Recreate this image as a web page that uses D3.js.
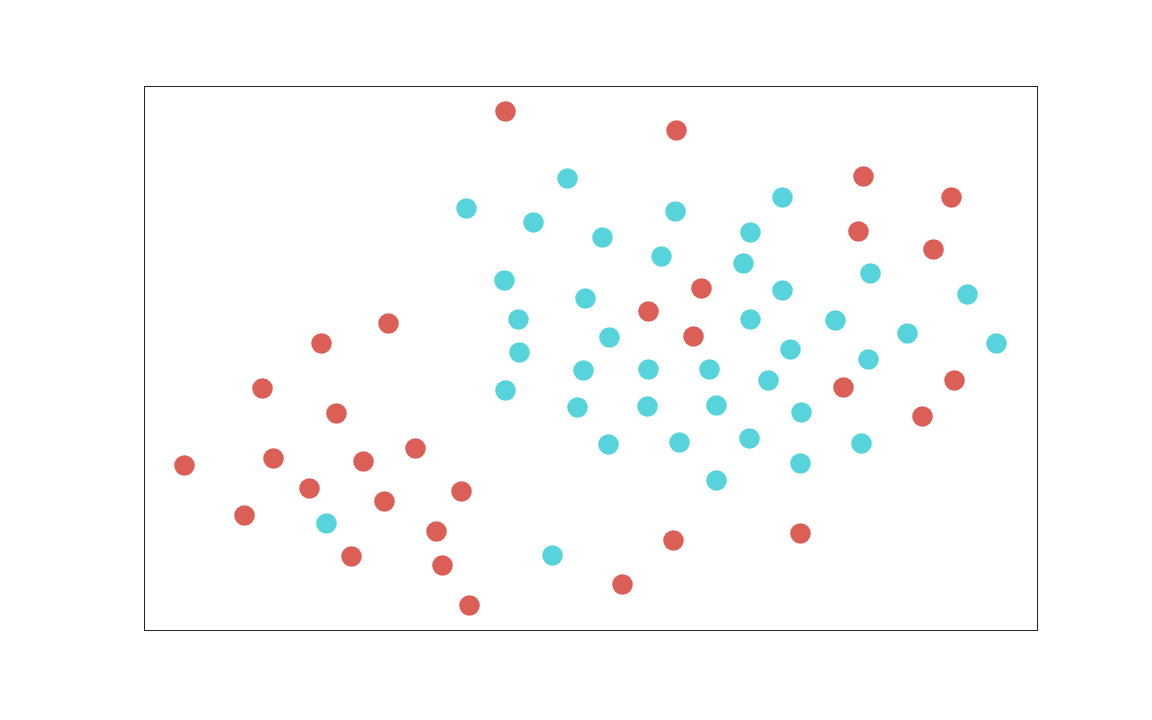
<!DOCTYPE html>
<html><head><meta charset="utf-8">
<script src="https://cdn.jsdelivr.net/npm/d3@7"></script>
<style>body{margin:0;background:#fff}</style>
</head><body>
<svg id="chart" width="1152" height="720"></svg>
<script>
// data in arbitrary units (x: 0..893, y: 0..544)
const redX = [361,532,719,807,714,789,557,504,549,244,177,118,192,271,40,129,219,165,317,240,100,292,207,298,325,478,529,656,699,810,778];
const redY = [519,500,454,433,399,381,342,319,294,307,287,242,217,182,165,172,169,142,139,129,115,99,74,65,25,46,90,97,243,250,214];
const cyanX = [423,322,389,531,638,458,606,517,599,360,726,441,638,823,374,606,691,763,852,465,375,646,724,439,504,565,624,361,433,503,572,657,464,535,605,717,656,572,182,408];
const cyanY = [452,422,408,419,433,393,398,374,367,350,357,332,340,336,311,311,310,297,287,293,278,281,271,260,261,261,250,240,223,224,225,218,186,188,192,187,167,150,107,75];

const W = 1152, H = 720;
const m = {left:144.5, top:86.5, right:1037.5, bottom:630.5};
const x = d3.scaleLinear().domain([0,893]).range([m.left, m.right]);
const y = d3.scaleLinear().domain([0,544]).range([m.bottom, m.top]);
const svg = d3.select("#chart");

const red = redX.map((v,i)=>({x:v,y:redY[i]}));
const cyan = cyanX.map((v,i)=>({x:v,y:cyanY[i]}));

svg.append("g").selectAll("circle").data(red).join("circle")
  .attr("cx",d=>x(d.x)).attr("cy",d=>y(d.y)).attr("r",10.3).attr("fill","#db5f57");
svg.append("g").selectAll("circle").data(cyan).join("circle")
  .attr("cx",d=>x(d.x)).attr("cy",d=>y(d.y)).attr("r",10.3).attr("fill","#57d3db");

svg.append("rect").attr("x",m.left).attr("y",m.top)
  .attr("width",m.right-m.left).attr("height",m.bottom-m.top)
  .attr("fill","none").attr("stroke","#262626").attr("stroke-width",1);
</script>
</body></html>
